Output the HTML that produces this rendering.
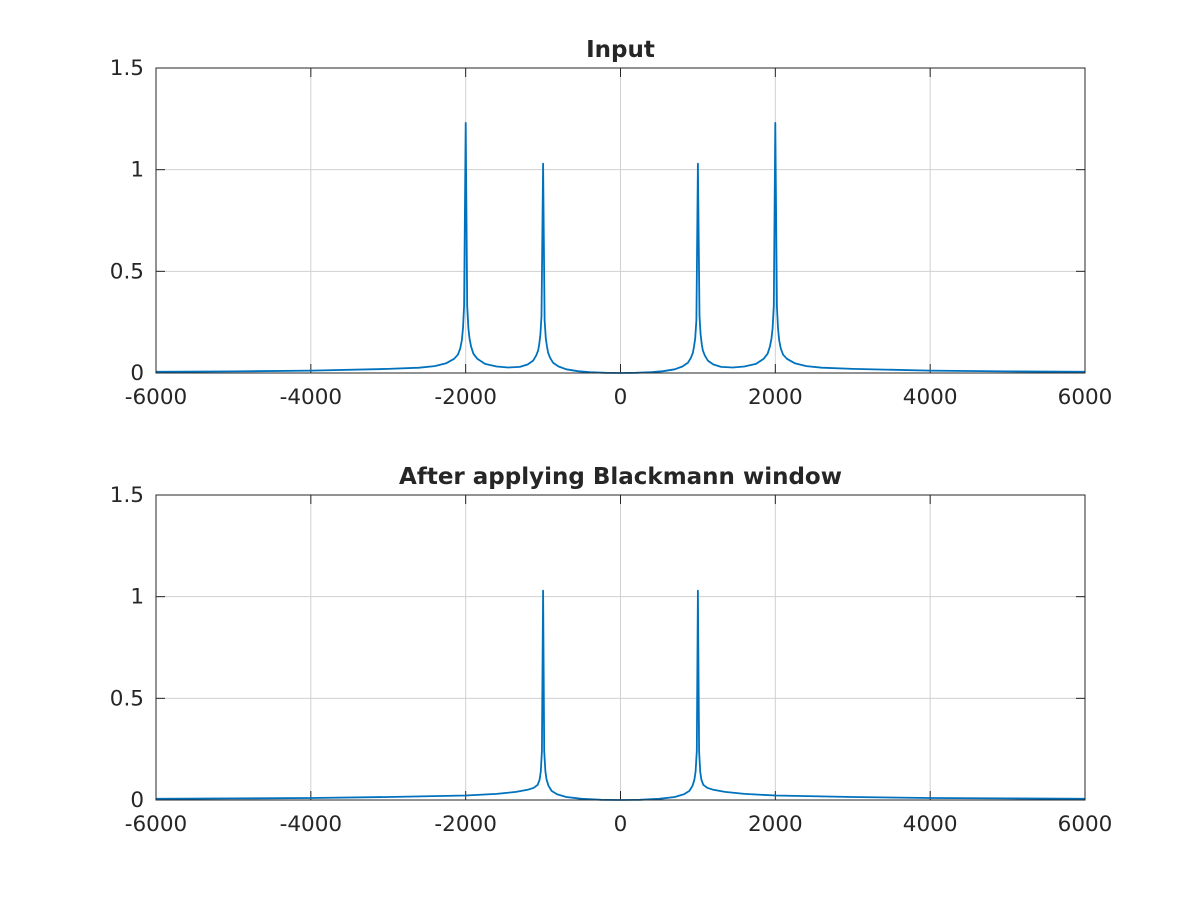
<!DOCTYPE html>
<html><head><meta charset="utf-8"><style>
html,body{margin:0;padding:0;background:#fff;}
svg text{font-family:"DejaVu Sans","Liberation Sans",sans-serif;fill:#262626;}
</style></head><body>
<svg id="fig" width="1200" height="900" viewBox="0 0 1200 900" xmlns="http://www.w3.org/2000/svg"></svg>
<script>
const freqTop = [-6000,-5000,-4000,-3000,-2600,-2400,-2250,-2150,-2100,-2070,-2050,-2035,-2020,-2000,-1980,-1965,-1950,-1930,-1900,-1850,-1750,-1600,-1450,-1300,-1200,-1130,-1090,-1065,-1050,-1035,-1020,-1000,-980,-965,-950,-935,-910,-870,-800,-700,-550,-400,-200,0,200,400,550,700,800,870,910,935,950,965,980,1000,1020,1035,1050,1065,1090,1130,1200,1300,1450,1600,1750,1850,1900,1930,1950,1965,1980,2000,2020,2035,2050,2070,2100,2150,2250,2400,2600,3000,4000,5000,6000];
const magTop = [0.006,0.008,0.012,0.02,0.026,0.034,0.048,0.07,0.09,0.12,0.16,0.22,0.33,1.23,0.33,0.22,0.17,0.13,0.095,0.07,0.045,0.032,0.027,0.03,0.042,0.06,0.085,0.11,0.14,0.19,0.28,1.03,0.26,0.17,0.13,0.1,0.075,0.05,0.032,0.018,0.009,0.004,0.001,0,0.001,0.004,0.009,0.018,0.032,0.05,0.075,0.1,0.13,0.17,0.26,1.03,0.28,0.19,0.14,0.11,0.085,0.06,0.042,0.03,0.027,0.032,0.045,0.07,0.095,0.13,0.17,0.22,0.33,1.23,0.33,0.22,0.16,0.12,0.09,0.07,0.048,0.034,0.026,0.02,0.012,0.008,0.006];
const freqBot = [-6000,-5000,-4000,-3000,-2000,-1600,-1350,-1200,-1120,-1070,-1045,-1030,-1015,-1000,-985,-970,-955,-930,-890,-820,-700,-500,-250,0,250,500,700,820,890,930,955,970,985,1000,1015,1030,1045,1070,1120,1200,1350,1600,2000,3000,4000,5000,6000];
const magBot = [0.006,0.008,0.01,0.015,0.022,0.03,0.04,0.05,0.06,0.075,0.1,0.14,0.24,1.03,0.24,0.14,0.1,0.07,0.045,0.028,0.015,0.006,0.001,0,0.001,0.006,0.015,0.028,0.045,0.07,0.1,0.14,0.24,1.03,0.24,0.14,0.1,0.075,0.06,0.05,0.04,0.03,0.022,0.015,0.01,0.008,0.006];
const xTicks = [-6000,-4000,-2000,0,2000,4000,6000];
const yTicks = [0,0.5,1,1.5];
const yTickLabels = ["0","0.5","1","1.5"];
const titles = ["Input","After applying Blackmann window"];

const svg = document.getElementById('fig');
const NS = 'http://www.w3.org/2000/svg';
function mk(tag, attrs, parent){const e=document.createElementNS(NS,tag);for(const k in attrs)e.setAttribute(k,attrs[k]);(parent||svg).appendChild(e);return e;}

function panel(top, bottom, title, fx, my, prefix){
  const L=156,R=1085;
  const sx=v=>L+(v+6000)/12000*(R-L);
  const sy=v=>bottom-v/1.5*(bottom-top);
  const g=mk('g',{});
  
  
  mk('rect',{x:L,y:top,width:R-L,height:bottom-top,fill:'#fff'},g);
  xTicks.forEach(t=>{
    const gl=mk('line',{x1:sx(t),x2:sx(t),y1:top,y2:bottom,stroke:'#d0d0d0','stroke-width':1},g);
    
    
    mk('line',{x1:sx(t),x2:sx(t),y1:bottom,y2:bottom-9,stroke:'#262626'},g);
    mk('line',{x1:sx(t),x2:sx(t),y1:top,y2:top+9,stroke:'#262626'},g);
    const tx=mk('text',{x:sx(t),y:bottom+31,'text-anchor':'middle','font-size':21.5},g);
    tx.textContent=t;
    
    
  });
  yTicks.forEach((t,i)=>{
    const gl=mk('line',{x1:L,x2:R,y1:sy(t),y2:sy(t),stroke:'#d0d0d0','stroke-width':1},g);
    
    
    mk('line',{x1:L,x2:L+9,y1:sy(t),y2:sy(t),stroke:'#262626'},g);
    mk('line',{x1:R,x2:R-9,y1:sy(t),y2:sy(t),stroke:'#262626'},g);
    const tx=mk('text',{x:L-12,y:sy(t)+7,'text-anchor':'end','font-size':21.5},g);
    tx.textContent=yTickLabels[i];
    
    
  });
  const d=fx.map((f,i)=>(i?'L':'M')+sx(f).toFixed(1)+','+sy(my[i]).toFixed(1)).join('');
  const p=mk('path',{d:d,fill:'none',stroke:'#0072bd','stroke-width':1.8,'stroke-linejoin':'round'},g);
  
  
  mk('rect',{x:L,y:top,width:R-L,height:bottom-top,fill:'none',stroke:'#262626','stroke-width':1},g);
  const tt=mk('text',{x:(L+R)/2,y:top-11,'text-anchor':'middle','font-size':23,'font-weight':'bold'},g);
  tt.textContent=title;
  
  
}
panel(68,373,titles[0],freqTop,magTop,'input');
panel(495,800,titles[1],freqBot,magBot,'blackmann');
</script>
</body></html>
